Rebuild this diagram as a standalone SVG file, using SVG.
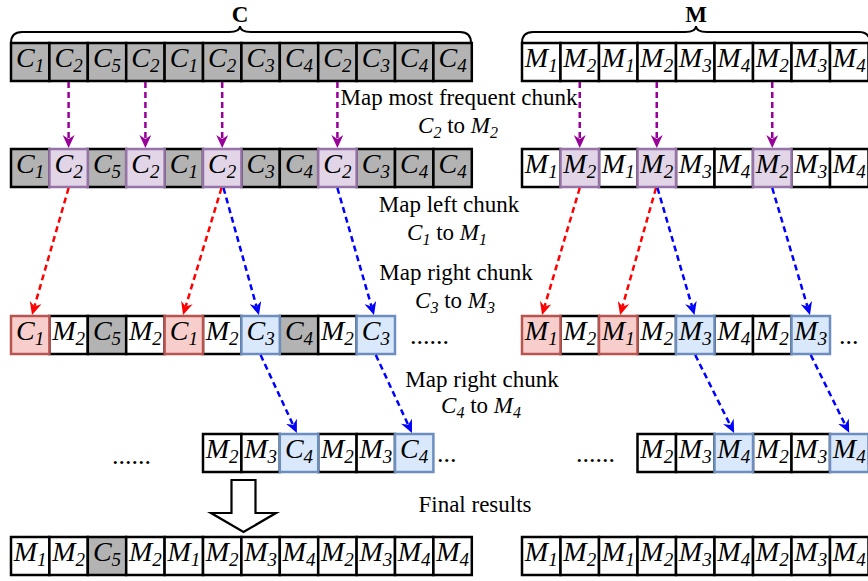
<svg xmlns="http://www.w3.org/2000/svg" width="868" height="581" viewBox="0 0 868 581">
<style>
  .cell{fill:#fff;stroke:#000;stroke-width:2.5}
  .g{fill:#b3b3b3}
  .p{fill:#e1d5e7;stroke:#9673a6}
  .r{fill:#f8cecc;stroke:#b85450}
  .b{fill:#dae8fc;stroke:#6c8ebf}
  text{font-family:"Liberation Serif","Times New Roman",serif;fill:#000}
  .t{font-style:italic;font-size:28px;text-anchor:middle}
  .s{font-size:19px}
  .lbl{font-size:23px;text-anchor:middle}
  .i{font-style:italic}
  .sub{font-size:16px;font-style:italic}
  .title{font-weight:bold;font-size:23px;text-anchor:middle}
  .dots{font-size:26px}
  .conn{fill:none;stroke-width:2.5;stroke-dasharray:6 4}
  .brace{fill:none;stroke:#000;stroke-width:2}
</style>
<defs>
  <marker id="ah-purple" viewBox="0 0 13 12" refX="4" refY="6" markerWidth="13" markerHeight="12" markerUnits="userSpaceOnUse" orient="auto"><path d="M0,0 L13,6 L0,12 L4,6 z" fill="#990099"/></marker>
  <marker id="ah-red" viewBox="0 0 13 12" refX="4" refY="6" markerWidth="13" markerHeight="12" markerUnits="userSpaceOnUse" orient="auto"><path d="M0,0 L13,6 L0,12 L4,6 z" fill="#ff0000"/></marker>
  <marker id="ah-blue" viewBox="0 0 13 12" refX="4" refY="6" markerWidth="13" markerHeight="12" markerUnits="userSpaceOnUse" orient="auto"><path d="M0,0 L13,6 L0,12 L4,6 z" fill="#0000ff"/></marker>
</defs>

<!-- titles and braces -->
<g id="title-c"><text class="title" x="240" y="21.5">C</text><path class="brace" d="M11,43 Q11,32 22,32 L229,32 Q240,32 240,26 Q240,32 251,32 L460,32 Q471,32 471,43"/></g>
<g id="title-m"><text class="title" x="696" y="21.5">M</text><path class="brace" d="M522,43 Q522,32 533,32 L685,32 Q696,32 696,26 Q696,32 707,32 L859,32 Q870,32 870,43"/></g>

<!-- row 1: original sequence -->
<g id="row1-left">
  <g id="r1l0"><rect class="cell g" x="11" y="43" width="38.4" height="38"/><text class="t" x="30.2" y="67">C<tspan class="s" dy="5">1</tspan></text></g>
  <g id="r1l1"><rect class="cell g" x="49.4" y="43" width="38.4" height="38"/><text class="t" x="68.6" y="67">C<tspan class="s" dy="5">2</tspan></text></g>
  <g id="r1l2"><rect class="cell g" x="87.8" y="43" width="38.4" height="38"/><text class="t" x="107" y="67">C<tspan class="s" dy="5">5</tspan></text></g>
  <g id="r1l3"><rect class="cell g" x="126.2" y="43" width="38.4" height="38"/><text class="t" x="145.4" y="67">C<tspan class="s" dy="5">2</tspan></text></g>
  <g id="r1l4"><rect class="cell g" x="164.6" y="43" width="38.4" height="38"/><text class="t" x="183.8" y="67">C<tspan class="s" dy="5">1</tspan></text></g>
  <g id="r1l5"><rect class="cell g" x="203" y="43" width="38.4" height="38"/><text class="t" x="222.2" y="67">C<tspan class="s" dy="5">2</tspan></text></g>
  <g id="r1l6"><rect class="cell g" x="241.4" y="43" width="38.4" height="38"/><text class="t" x="260.6" y="67">C<tspan class="s" dy="5">3</tspan></text></g>
  <g id="r1l7"><rect class="cell g" x="279.8" y="43" width="38.4" height="38"/><text class="t" x="299" y="67">C<tspan class="s" dy="5">4</tspan></text></g>
  <g id="r1l8"><rect class="cell g" x="318.2" y="43" width="38.4" height="38"/><text class="t" x="337.4" y="67">C<tspan class="s" dy="5">2</tspan></text></g>
  <g id="r1l9"><rect class="cell g" x="356.6" y="43" width="38.4" height="38"/><text class="t" x="375.8" y="67">C<tspan class="s" dy="5">3</tspan></text></g>
  <g id="r1l10"><rect class="cell g" x="395" y="43" width="38.4" height="38"/><text class="t" x="414.2" y="67">C<tspan class="s" dy="5">4</tspan></text></g>
  <g id="r1l11"><rect class="cell g" x="433.4" y="43" width="38.4" height="38"/><text class="t" x="452.6" y="67">C<tspan class="s" dy="5">4</tspan></text></g>
</g>
<g id="row1-right">
  <g id="r1r0"><rect class="cell" x="522" y="43" width="38.5" height="38"/><text class="t" x="541.25" y="67">M<tspan class="s" dy="5">1</tspan></text></g>
  <g id="r1r1"><rect class="cell" x="560.5" y="43" width="38.5" height="38"/><text class="t" x="579.75" y="67">M<tspan class="s" dy="5">2</tspan></text></g>
  <g id="r1r2"><rect class="cell" x="599" y="43" width="38.5" height="38"/><text class="t" x="618.25" y="67">M<tspan class="s" dy="5">1</tspan></text></g>
  <g id="r1r3"><rect class="cell" x="637.5" y="43" width="38.5" height="38"/><text class="t" x="656.75" y="67">M<tspan class="s" dy="5">2</tspan></text></g>
  <g id="r1r4"><rect class="cell" x="676" y="43" width="38.5" height="38"/><text class="t" x="695.25" y="67">M<tspan class="s" dy="5">3</tspan></text></g>
  <g id="r1r5"><rect class="cell" x="714.5" y="43" width="38.5" height="38"/><text class="t" x="733.75" y="67">M<tspan class="s" dy="5">4</tspan></text></g>
  <g id="r1r6"><rect class="cell" x="753" y="43" width="38.5" height="38"/><text class="t" x="772.25" y="67">M<tspan class="s" dy="5">2</tspan></text></g>
  <g id="r1r7"><rect class="cell" x="791.5" y="43" width="38.5" height="38"/><text class="t" x="810.75" y="67">M<tspan class="s" dy="5">3</tspan></text></g>
  <g id="r1r8"><rect class="cell" x="830" y="43" width="38.5" height="38"/><text class="t" x="849.25" y="67">M<tspan class="s" dy="5">4</tspan></text></g>
</g>

<!-- row 2: most frequent chunk marked -->
<g id="row2-left">
  <g id="r2l0"><rect class="cell g" x="11" y="149" width="38.4" height="38"/><text class="t" x="30.2" y="173">C<tspan class="s" dy="5">1</tspan></text></g>
  <g id="r2l2"><rect class="cell g" x="87.8" y="149" width="38.4" height="38"/><text class="t" x="107" y="173">C<tspan class="s" dy="5">5</tspan></text></g>
  <g id="r2l4"><rect class="cell g" x="164.6" y="149" width="38.4" height="38"/><text class="t" x="183.8" y="173">C<tspan class="s" dy="5">1</tspan></text></g>
  <g id="r2l6"><rect class="cell g" x="241.4" y="149" width="38.4" height="38"/><text class="t" x="260.6" y="173">C<tspan class="s" dy="5">3</tspan></text></g>
  <g id="r2l7"><rect class="cell g" x="279.8" y="149" width="38.4" height="38"/><text class="t" x="299" y="173">C<tspan class="s" dy="5">4</tspan></text></g>
  <g id="r2l9"><rect class="cell g" x="356.6" y="149" width="38.4" height="38"/><text class="t" x="375.8" y="173">C<tspan class="s" dy="5">3</tspan></text></g>
  <g id="r2l10"><rect class="cell g" x="395" y="149" width="38.4" height="38"/><text class="t" x="414.2" y="173">C<tspan class="s" dy="5">4</tspan></text></g>
  <g id="r2l11"><rect class="cell g" x="433.4" y="149" width="38.4" height="38"/><text class="t" x="452.6" y="173">C<tspan class="s" dy="5">4</tspan></text></g>
  <g id="r2l1"><rect class="cell p" x="49.4" y="149" width="38.4" height="38"/><text class="t" x="68.6" y="173">C<tspan class="s" dy="5">2</tspan></text></g>
  <g id="r2l3"><rect class="cell p" x="126.2" y="149" width="38.4" height="38"/><text class="t" x="145.4" y="173">C<tspan class="s" dy="5">2</tspan></text></g>
  <g id="r2l5"><rect class="cell p" x="203" y="149" width="38.4" height="38"/><text class="t" x="222.2" y="173">C<tspan class="s" dy="5">2</tspan></text></g>
  <g id="r2l8"><rect class="cell p" x="318.2" y="149" width="38.4" height="38"/><text class="t" x="337.4" y="173">C<tspan class="s" dy="5">2</tspan></text></g>
</g>
<g id="row2-right">
  <g id="r2r0"><rect class="cell" x="522" y="149" width="38.5" height="38"/><text class="t" x="541.25" y="173">M<tspan class="s" dy="5">1</tspan></text></g>
  <g id="r2r2"><rect class="cell" x="599" y="149" width="38.5" height="38"/><text class="t" x="618.25" y="173">M<tspan class="s" dy="5">1</tspan></text></g>
  <g id="r2r4"><rect class="cell" x="676" y="149" width="38.5" height="38"/><text class="t" x="695.25" y="173">M<tspan class="s" dy="5">3</tspan></text></g>
  <g id="r2r5"><rect class="cell" x="714.5" y="149" width="38.5" height="38"/><text class="t" x="733.75" y="173">M<tspan class="s" dy="5">4</tspan></text></g>
  <g id="r2r7"><rect class="cell" x="791.5" y="149" width="38.5" height="38"/><text class="t" x="810.75" y="173">M<tspan class="s" dy="5">3</tspan></text></g>
  <g id="r2r8"><rect class="cell" x="830" y="149" width="38.5" height="38"/><text class="t" x="849.25" y="173">M<tspan class="s" dy="5">4</tspan></text></g>
  <g id="r2r1"><rect class="cell p" x="560.5" y="149" width="38.5" height="38"/><text class="t" x="579.75" y="173">M<tspan class="s" dy="5">2</tspan></text></g>
  <g id="r2r3"><rect class="cell p" x="637.5" y="149" width="38.5" height="38"/><text class="t" x="656.75" y="173">M<tspan class="s" dy="5">2</tspan></text></g>
  <g id="r2r6"><rect class="cell p" x="753" y="149" width="38.5" height="38"/><text class="t" x="772.25" y="173">M<tspan class="s" dy="5">2</tspan></text></g>
</g>

<!-- row 3: neighbours mapped -->
<g id="row3-left">
  <g id="r3l1"><rect class="cell" x="49.4" y="316" width="38.4" height="38"/><text class="t" x="68.6" y="340">M<tspan class="s" dy="5">2</tspan></text></g>
  <g id="r3l2"><rect class="cell g" x="87.8" y="316" width="38.4" height="38"/><text class="t" x="107" y="340">C<tspan class="s" dy="5">5</tspan></text></g>
  <g id="r3l3"><rect class="cell" x="126.2" y="316" width="38.4" height="38"/><text class="t" x="145.4" y="340">M<tspan class="s" dy="5">2</tspan></text></g>
  <g id="r3l5"><rect class="cell" x="203" y="316" width="38.4" height="38"/><text class="t" x="222.2" y="340">M<tspan class="s" dy="5">2</tspan></text></g>
  <g id="r3l7"><rect class="cell g" x="279.8" y="316" width="38.4" height="38"/><text class="t" x="299" y="340">C<tspan class="s" dy="5">4</tspan></text></g>
  <g id="r3l8"><rect class="cell" x="318.2" y="316" width="38.4" height="38"/><text class="t" x="337.4" y="340">M<tspan class="s" dy="5">2</tspan></text></g>
  <g id="r3l0"><rect class="cell r" x="11" y="316" width="38.4" height="38"/><text class="t" x="30.2" y="340">C<tspan class="s" dy="5">1</tspan></text></g>
  <g id="r3l4"><rect class="cell r" x="164.6" y="316" width="38.4" height="38"/><text class="t" x="183.8" y="340">C<tspan class="s" dy="5">1</tspan></text></g>
  <g id="r3l6"><rect class="cell b" x="241.4" y="316" width="38.4" height="38"/><text class="t" x="260.6" y="340">C<tspan class="s" dy="5">3</tspan></text></g>
  <g id="r3l9"><rect class="cell b" x="356.6" y="316" width="38.4" height="38"/><text class="t" x="375.8" y="340">C<tspan class="s" dy="5">3</tspan></text></g>
  <text class="dots" x="410" y="344">......</text>
</g>
<g id="row3-right">
  <g id="r3r1"><rect class="cell" x="560.5" y="316" width="38.5" height="38"/><text class="t" x="579.75" y="340">M<tspan class="s" dy="5">2</tspan></text></g>
  <g id="r3r3"><rect class="cell" x="637.5" y="316" width="38.5" height="38"/><text class="t" x="656.75" y="340">M<tspan class="s" dy="5">2</tspan></text></g>
  <g id="r3r5"><rect class="cell" x="714.5" y="316" width="38.5" height="38"/><text class="t" x="733.75" y="340">M<tspan class="s" dy="5">4</tspan></text></g>
  <g id="r3r6"><rect class="cell" x="753" y="316" width="38.5" height="38"/><text class="t" x="772.25" y="340">M<tspan class="s" dy="5">2</tspan></text></g>
  <g id="r3r0"><rect class="cell r" x="522" y="316" width="38.5" height="38"/><text class="t" x="541.25" y="340">M<tspan class="s" dy="5">1</tspan></text></g>
  <g id="r3r2"><rect class="cell r" x="599" y="316" width="38.5" height="38"/><text class="t" x="618.25" y="340">M<tspan class="s" dy="5">1</tspan></text></g>
  <g id="r3r4"><rect class="cell b" x="676" y="316" width="38.5" height="38"/><text class="t" x="695.25" y="340">M<tspan class="s" dy="5">3</tspan></text></g>
  <g id="r3r7"><rect class="cell b" x="791.5" y="316" width="38.5" height="38"/><text class="t" x="810.75" y="340">M<tspan class="s" dy="5">3</tspan></text></g>
  <text class="dots" x="839" y="344">...</text>
</g>

<!-- row 4: next neighbours mapped -->
<g id="row4-left">
  <text class="dots" x="112" y="464">......</text>
  <g id="r4l5"><rect class="cell" x="203" y="434" width="38.4" height="38"/><text class="t" x="222.2" y="458">M<tspan class="s" dy="5">2</tspan></text></g>
  <g id="r4l6"><rect class="cell" x="241.4" y="434" width="38.4" height="38"/><text class="t" x="260.6" y="458">M<tspan class="s" dy="5">3</tspan></text></g>
  <g id="r4l8"><rect class="cell" x="318.2" y="434" width="38.4" height="38"/><text class="t" x="337.4" y="458">M<tspan class="s" dy="5">2</tspan></text></g>
  <g id="r4l9"><rect class="cell" x="356.6" y="434" width="38.4" height="38"/><text class="t" x="375.8" y="458">M<tspan class="s" dy="5">3</tspan></text></g>
  <g id="r4l7"><rect class="cell b" x="279.8" y="434" width="38.4" height="38"/><text class="t" x="299" y="458">C<tspan class="s" dy="5">4</tspan></text></g>
  <g id="r4l10"><rect class="cell b" x="395" y="434" width="38.4" height="38"/><text class="t" x="414.2" y="458">C<tspan class="s" dy="5">4</tspan></text></g>
  <text class="dots" x="437" y="462">...</text>
</g>
<g id="row4-right">
  <text class="dots" x="576" y="462">......</text>
  <g id="r4r3"><rect class="cell" x="637.5" y="434" width="38.5" height="38"/><text class="t" x="656.75" y="458">M<tspan class="s" dy="5">2</tspan></text></g>
  <g id="r4r4"><rect class="cell" x="676" y="434" width="38.5" height="38"/><text class="t" x="695.25" y="458">M<tspan class="s" dy="5">3</tspan></text></g>
  <g id="r4r6"><rect class="cell" x="753" y="434" width="38.5" height="38"/><text class="t" x="772.25" y="458">M<tspan class="s" dy="5">2</tspan></text></g>
  <g id="r4r7"><rect class="cell" x="791.5" y="434" width="38.5" height="38"/><text class="t" x="810.75" y="458">M<tspan class="s" dy="5">3</tspan></text></g>
  <g id="r4r5"><rect class="cell b" x="714.5" y="434" width="38.5" height="38"/><text class="t" x="733.75" y="458">M<tspan class="s" dy="5">4</tspan></text></g>
  <g id="r4r8"><rect class="cell b" x="830" y="434" width="38.5" height="38"/><text class="t" x="849.25" y="458">M<tspan class="s" dy="5">4</tspan></text></g>
</g>

<!-- final results -->
<g id="final-left">
  <g id="r5l0"><rect class="cell" x="11" y="537" width="38.4" height="38"/><text class="t" x="30.2" y="561">M<tspan class="s" dy="5">1</tspan></text></g>
  <g id="r5l1"><rect class="cell" x="49.4" y="537" width="38.4" height="38"/><text class="t" x="68.6" y="561">M<tspan class="s" dy="5">2</tspan></text></g>
  <g id="r5l2"><rect class="cell g" x="87.8" y="537" width="38.4" height="38"/><text class="t" x="107" y="561">C<tspan class="s" dy="5">5</tspan></text></g>
  <g id="r5l3"><rect class="cell" x="126.2" y="537" width="38.4" height="38"/><text class="t" x="145.4" y="561">M<tspan class="s" dy="5">2</tspan></text></g>
  <g id="r5l4"><rect class="cell" x="164.6" y="537" width="38.4" height="38"/><text class="t" x="183.8" y="561">M<tspan class="s" dy="5">1</tspan></text></g>
  <g id="r5l5"><rect class="cell" x="203" y="537" width="38.4" height="38"/><text class="t" x="222.2" y="561">M<tspan class="s" dy="5">2</tspan></text></g>
  <g id="r5l6"><rect class="cell" x="241.4" y="537" width="38.4" height="38"/><text class="t" x="260.6" y="561">M<tspan class="s" dy="5">3</tspan></text></g>
  <g id="r5l7"><rect class="cell" x="279.8" y="537" width="38.4" height="38"/><text class="t" x="299" y="561">M<tspan class="s" dy="5">4</tspan></text></g>
  <g id="r5l8"><rect class="cell" x="318.2" y="537" width="38.4" height="38"/><text class="t" x="337.4" y="561">M<tspan class="s" dy="5">2</tspan></text></g>
  <g id="r5l9"><rect class="cell" x="356.6" y="537" width="38.4" height="38"/><text class="t" x="375.8" y="561">M<tspan class="s" dy="5">3</tspan></text></g>
  <g id="r5l10"><rect class="cell" x="395" y="537" width="38.4" height="38"/><text class="t" x="414.2" y="561">M<tspan class="s" dy="5">4</tspan></text></g>
  <g id="r5l11"><rect class="cell" x="433.4" y="537" width="38.4" height="38"/><text class="t" x="452.6" y="561">M<tspan class="s" dy="5">4</tspan></text></g>
</g>
<g id="final-right">
  <g id="r5r0"><rect class="cell" x="522" y="537" width="38.5" height="38"/><text class="t" x="541.25" y="561">M<tspan class="s" dy="5">1</tspan></text></g>
  <g id="r5r1"><rect class="cell" x="560.5" y="537" width="38.5" height="38"/><text class="t" x="579.75" y="561">M<tspan class="s" dy="5">2</tspan></text></g>
  <g id="r5r2"><rect class="cell" x="599" y="537" width="38.5" height="38"/><text class="t" x="618.25" y="561">M<tspan class="s" dy="5">1</tspan></text></g>
  <g id="r5r3"><rect class="cell" x="637.5" y="537" width="38.5" height="38"/><text class="t" x="656.75" y="561">M<tspan class="s" dy="5">2</tspan></text></g>
  <g id="r5r4"><rect class="cell" x="676" y="537" width="38.5" height="38"/><text class="t" x="695.25" y="561">M<tspan class="s" dy="5">3</tspan></text></g>
  <g id="r5r5"><rect class="cell" x="714.5" y="537" width="38.5" height="38"/><text class="t" x="733.75" y="561">M<tspan class="s" dy="5">4</tspan></text></g>
  <g id="r5r6"><rect class="cell" x="753" y="537" width="38.5" height="38"/><text class="t" x="772.25" y="561">M<tspan class="s" dy="5">2</tspan></text></g>
  <g id="r5r7"><rect class="cell" x="791.5" y="537" width="38.5" height="38"/><text class="t" x="810.75" y="561">M<tspan class="s" dy="5">3</tspan></text></g>
  <g id="r5r8"><rect class="cell" x="830" y="537" width="38.5" height="38"/><text class="t" x="849.25" y="561">M<tspan class="s" dy="5">4</tspan></text></g>
</g>

<!-- step labels -->
<g id="labels">
  <text class="lbl" x="459" y="105">Map most frequent chunk</text>
  <text class="lbl" x="458" y="133"><tspan class="i">C</tspan><tspan class="sub" dy="5">2</tspan><tspan dy="-5"> to </tspan><tspan class="i">M</tspan><tspan class="sub" dy="5">2</tspan></text>
  <text class="lbl" x="449" y="212">Map left chunk</text>
  <text class="lbl" x="447" y="240"><tspan class="i">C</tspan><tspan class="sub" dy="5">1</tspan><tspan dy="-5"> to </tspan><tspan class="i">M</tspan><tspan class="sub" dy="5">1</tspan></text>
  <text class="lbl" x="456" y="280">Map right chunk</text>
  <text class="lbl" x="455" y="308"><tspan class="i">C</tspan><tspan class="sub" dy="5">3</tspan><tspan dy="-5"> to </tspan><tspan class="i">M</tspan><tspan class="sub" dy="5">3</tspan></text>
  <text class="lbl" x="482" y="387">Map right chunk</text>
  <text class="lbl" x="481" y="413"><tspan class="i">C</tspan><tspan class="sub" dy="5">4</tspan><tspan dy="-5"> to </tspan><tspan class="i">M</tspan><tspan class="sub" dy="5">4</tspan></text>
  <text class="lbl" x="475" y="512">Final results</text>
</g>

<!-- block arrow towards the final results -->
<g id="to-final">
  <polygon points="231.5,480 255.5,480 255.5,513 276,513 243.5,532 211,513 231.5,513" fill="#fff" stroke="#000" stroke-width="2.2"/>
</g>

<!-- connectors -->
<g id="connectors">
  <g stroke="#990099" marker-end="url(#ah-purple)">
    <line class="conn" x1="68.6" y1="82" x2="68.6" y2="139"/>
    <line class="conn" x1="145.4" y1="82" x2="145.4" y2="139"/>
    <line class="conn" x1="222.2" y1="82" x2="222.2" y2="139"/>
    <line class="conn" x1="337.4" y1="82" x2="337.4" y2="139"/>
    <line class="conn" x1="579.75" y1="82" x2="579.75" y2="139"/>
    <line class="conn" x1="656.75" y1="82" x2="656.75" y2="139"/>
    <line class="conn" x1="772.25" y1="82" x2="772.25" y2="139"/>
  </g>
  <g stroke="#ff0000" marker-end="url(#ah-red)">
    <line class="conn" x1="68.6" y1="188" x2="34.5" y2="306.4"/>
    <line class="conn" x1="221.5" y1="188" x2="185.7" y2="306.4"/>
    <line class="conn" x1="579.75" y1="188" x2="544.6" y2="306.4"/>
    <line class="conn" x1="656" y1="188" x2="622.5" y2="306.4"/>
  </g>
  <g stroke="#0000ff" marker-end="url(#ah-blue)">
    <line class="conn" x1="223.5" y1="188" x2="256.5" y2="306.4"/>
    <line class="conn" x1="337.4" y1="188" x2="371.5" y2="306.4"/>
    <line class="conn" x1="657.5" y1="188" x2="692" y2="306.4"/>
    <line class="conn" x1="772.25" y1="188" x2="807.4" y2="306.4"/>
    <line class="conn" x1="260.6" y1="355" x2="293.1" y2="424.9"/>
    <line class="conn" x1="375.8" y1="355" x2="408.2" y2="424.8"/>
    <line class="conn" x1="695.25" y1="355" x2="730.1" y2="424.9"/>
    <line class="conn" x1="810.75" y1="355" x2="845.2" y2="424.8"/>
  </g>
</g>
</svg>
